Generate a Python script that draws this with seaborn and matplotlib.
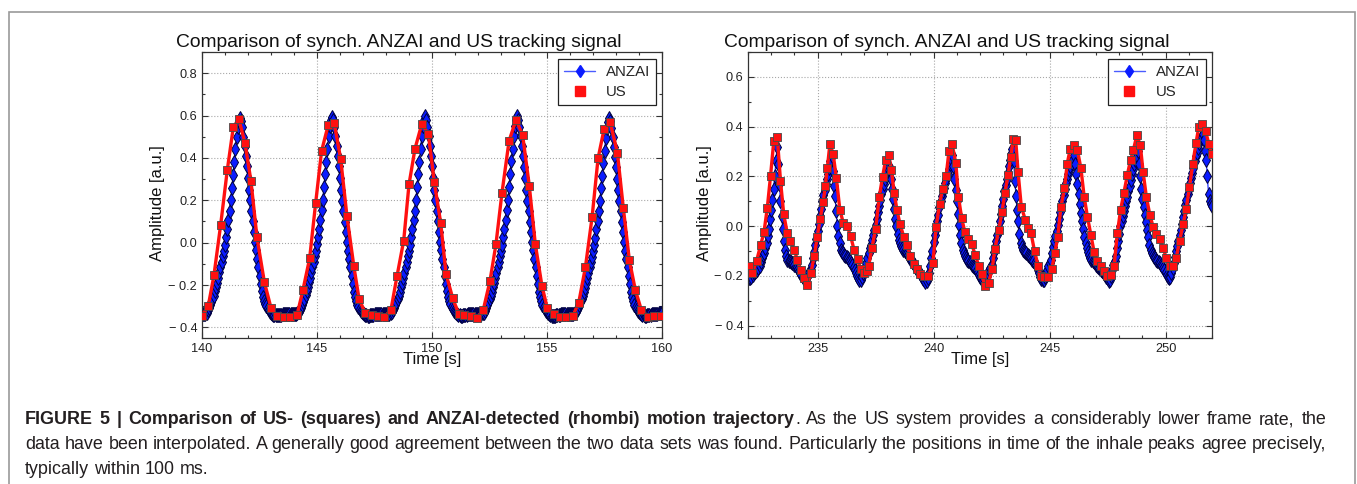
import matplotlib
matplotlib.use("Agg")
import matplotlib.pyplot as plt
from matplotlib.lines import Line2D
from matplotlib.patches import Rectangle
from matplotlib.ticker import MultipleLocator
import numpy as np
import seaborn as sns

# ---- data -------------------------------------------------------------
# ANZAI: one sample every 0.05 s, one row per second
anzai_step = 0.05
anzai_left_start = 140.0
anzai_left = [
    -0.335, -0.335, -0.335, -0.335, -0.33, -0.32, -0.31, -0.295, -0.28, -0.265, -0.25, -0.23, -0.21, -0.19, -0.165, -0.14, -0.115, -0.09, -0.065, -0.04,
    -0.01, 0.025, 0.065, 0.105, 0.15, 0.2, 0.26, 0.32, 0.38, 0.44, 0.5, 0.545, 0.575, 0.59, 0.575, 0.545, 0.5, 0.455, 0.41, 0.36,
    0.305, 0.25, 0.2, 0.15, 0.1, 0.05, 0.005, -0.035, -0.075, -0.115, -0.155, -0.195, -0.23, -0.255, -0.275, -0.29, -0.3, -0.31, -0.32, -0.325,
    -0.33, -0.335, -0.34, -0.34, -0.342, -0.342, -0.342, -0.34, -0.34, -0.34, -0.338, -0.338, -0.336, -0.335, -0.335, -0.335, -0.335, -0.335, -0.335, -0.335,
    -0.335, -0.335, -0.335, -0.333, -0.328, -0.318, -0.308, -0.294, -0.28, -0.265, -0.248, -0.23, -0.21, -0.188, -0.165, -0.14, -0.115, -0.09, -0.063, -0.037,
    -0.008, 0.027, 0.066, 0.107, 0.152, 0.203, 0.262, 0.323, 0.383, 0.443, 0.503, 0.55, 0.58, 0.595, 0.578, 0.547, 0.503, 0.457, 0.41, 0.36,
    0.303, 0.248, 0.198, 0.148, 0.098, 0.05, 0.005, -0.037, -0.077, -0.117, -0.157, -0.197, -0.232, -0.257, -0.277, -0.292, -0.303, -0.313, -0.322, -0.327,
    -0.333, -0.338, -0.342, -0.343, -0.344, -0.344, -0.343, -0.342, -0.341, -0.34, -0.339, -0.338, -0.337, -0.336, -0.335, -0.335, -0.335, -0.335, -0.335, -0.335,
    -0.335, -0.335, -0.335, -0.335, -0.334, -0.329, -0.32, -0.309, -0.295, -0.281, -0.266, -0.25, -0.231, -0.211, -0.19, -0.166, -0.141, -0.116, -0.09, -0.065,
    -0.04, -0.01, 0.025, 0.065, 0.106, 0.151, 0.202, 0.262, 0.322, 0.383, 0.443, 0.503, 0.55, 0.58, 0.597, 0.58, 0.548, 0.503, 0.457, 0.41,
    0.36, 0.305, 0.25, 0.2, 0.15, 0.1, 0.05, 0.005, -0.035, -0.075, -0.115, -0.155, -0.195, -0.23, -0.256, -0.276, -0.291, -0.302, -0.312, -0.321,
    -0.327, -0.332, -0.337, -0.341, -0.343, -0.344, -0.344, -0.343, -0.342, -0.341, -0.34, -0.339, -0.338, -0.337, -0.336, -0.335, -0.335, -0.335, -0.335, -0.335,
    -0.335, -0.335, -0.335, -0.335, -0.334, -0.33, -0.321, -0.31, -0.296, -0.281, -0.266, -0.25, -0.231, -0.211, -0.19, -0.166, -0.141, -0.115, -0.09, -0.064,
    -0.039, -0.009, 0.026, 0.066, 0.107, 0.152, 0.203, 0.263, 0.323, 0.384, 0.444, 0.504, 0.551, 0.581, 0.597, 0.581, 0.548, 0.503, 0.456, 0.41,
    0.359, 0.304, 0.249, 0.199, 0.149, 0.099, 0.049, 0.004, -0.036, -0.076, -0.116, -0.156, -0.196, -0.231, -0.257, -0.277, -0.292, -0.303, -0.313, -0.322,
    -0.328, -0.333, -0.338, -0.342, -0.344, -0.345, -0.345, -0.344, -0.343, -0.342, -0.341, -0.34, -0.339, -0.338, -0.337, -0.336, -0.335, -0.335, -0.335, -0.335,
    -0.335, -0.335, -0.335, -0.335, -0.333, -0.328, -0.32, -0.31, -0.296, -0.282, -0.267, -0.251, -0.232, -0.212, -0.191, -0.167, -0.142, -0.117, -0.091, -0.066,
    -0.041, -0.011, 0.024, 0.063, 0.103, 0.148, 0.198, 0.257, 0.316, 0.376, 0.435, 0.494, 0.54, 0.57, 0.587, 0.572, 0.541, 0.497, 0.452, 0.406,
    0.357, 0.302, 0.248, 0.198, 0.148, 0.098, 0.048, 0.003, -0.037, -0.077, -0.117, -0.157, -0.197, -0.232, -0.257, -0.277, -0.292, -0.303, -0.313, -0.322,
    -0.328, -0.333, -0.337, -0.341, -0.343, -0.344, -0.344, -0.343, -0.342, -0.341, -0.34, -0.339, -0.338, -0.337, -0.336, -0.335, -0.335, -0.334, -0.334, -0.333,
    -0.333,
]

anzai_right_start = 232.0
anzai_right = [
    -0.205, -0.21, -0.21, -0.205, -0.198, -0.19, -0.185, -0.18, -0.175, -0.17, -0.16, -0.145, -0.13, -0.118, -0.11, -0.09, -0.07, -0.04, -0.01, 0.03,
    0.065, 0.105, 0.15, 0.2, 0.26, 0.32, 0.25, 0.17, 0.1, 0.04, -0.01, -0.06, -0.095, -0.12, -0.135, -0.14, -0.142, -0.145, -0.148, -0.15,
    -0.155, -0.16, -0.165, -0.172, -0.18, -0.19, -0.198, -0.205, -0.212, -0.215, -0.212, -0.205, -0.195, -0.185, -0.175, -0.155, -0.13, -0.105, -0.075, -0.05,
    -0.02, 0.01, 0.04, 0.07, 0.1, 0.125, 0.145, 0.17, 0.19, 0.21, 0.235, 0.26, 0.28, 0.22, 0.16, 0.12, 0.06, 0.0, -0.04, -0.07,
    -0.095, -0.105, -0.11, -0.115, -0.12, -0.125, -0.13, -0.135, -0.14, -0.147, -0.155, -0.165, -0.178, -0.19, -0.2, -0.21, -0.217, -0.215, -0.205, -0.19,
    -0.178, -0.165, -0.15, -0.13, -0.11, -0.09, -0.075, -0.055, -0.035, -0.015, 0.005, 0.03, 0.055, 0.08, 0.105, 0.13, 0.15, 0.17, 0.19, 0.205,
    0.22, 0.235, 0.235, 0.19, 0.15, 0.11, 0.07, 0.03, 0.0, -0.03, -0.055, -0.07, -0.08, -0.09, -0.095, -0.1, -0.105, -0.11, -0.117, -0.125,
    -0.132, -0.14, -0.147, -0.153, -0.16, -0.168, -0.175, -0.183, -0.19, -0.197, -0.205, -0.212, -0.218, -0.223, -0.222, -0.21, -0.19, -0.161, -0.13, -0.1,
    -0.065, -0.035, -0.01, 0.02, 0.045, 0.075, 0.1, 0.12, 0.14, 0.155, 0.172, 0.19, 0.21, 0.23, 0.25, 0.27, 0.285, 0.24, 0.19, 0.145,
    0.1, 0.05, 0.005, -0.035, -0.07, -0.095, -0.11, -0.12, -0.128, -0.135, -0.14, -0.145, -0.15, -0.155, -0.16, -0.165, -0.17, -0.175, -0.185, -0.195,
    -0.203, -0.21, -0.215, -0.22, -0.22, -0.21, -0.2, -0.19, -0.178, -0.168, -0.155, -0.13, -0.105, -0.085, -0.06, -0.035, -0.01, 0.02, 0.05, 0.08,
    0.11, 0.14, 0.165, 0.19, 0.215, 0.24, 0.265, 0.29, 0.31, 0.26, 0.18, 0.12, 0.065, 0.02, -0.03, -0.068, -0.085, -0.095, -0.1, -0.105,
    -0.11, -0.115, -0.12, -0.125, -0.13, -0.135, -0.14, -0.147, -0.155, -0.165, -0.178, -0.19, -0.203, -0.212, -0.217, -0.215, -0.205, -0.19, -0.175, -0.16,
    -0.148, -0.135, -0.11, -0.085, -0.06, -0.04, -0.02, 0.005, 0.03, 0.055, 0.08, 0.1, 0.125, 0.15, 0.172, 0.19, 0.21, 0.225, 0.24, 0.255,
    0.27, 0.285, 0.25, 0.21, 0.17, 0.13, 0.09, 0.052, 0.02, -0.01, -0.045, -0.07, -0.09, -0.105, -0.118, -0.128, -0.135, -0.14, -0.145, -0.15,
    -0.155, -0.16, -0.165, -0.17, -0.175, -0.18, -0.185, -0.19, -0.197, -0.205, -0.213, -0.22, -0.218, -0.2, -0.175, -0.155, -0.14, -0.121, -0.09, -0.06,
    -0.03, 0.0, 0.02, 0.04, 0.06, 0.08, 0.1, 0.118, 0.14, 0.16, 0.185, 0.21, 0.23, 0.25, 0.265, 0.28, 0.3, 0.25, 0.2, 0.15,
    0.11, 0.075, 0.045, 0.015, -0.015, -0.045, -0.075, -0.095, -0.108, -0.118, -0.125, -0.13, -0.135, -0.14, -0.145, -0.15, -0.155, -0.16, -0.167, -0.175,
    -0.185, -0.195, -0.203, -0.208, -0.205, -0.19, -0.17, -0.15, -0.125, -0.1, -0.08, -0.06, -0.035, -0.015, 0.01, 0.035, 0.06, 0.085, 0.105, 0.13,
    0.15, 0.172, 0.195, 0.215, 0.235, 0.26, 0.28, 0.295, 0.315, 0.335, 0.35, 0.36, 0.37, 0.345, 0.3, 0.265, 0.2, 0.13, 0.1, 0.09,
    0.08,
]

# US (ultrasound) samples
us_left_t = [140.0, 140.27, 140.52, 140.81, 141.1, 141.36, 141.6, 141.87, 142.13, 142.39, 142.71, 143.0, 143.26, 143.55,
             143.84, 144.13, 144.39, 144.68, 144.94, 145.2, 145.49, 145.75, 146.03, 146.3, 146.6, 146.83, 147.09, 147.38,
             147.64, 147.93, 148.21, 148.48, 148.77, 149.0, 149.26, 149.55, 149.84, 150.1, 150.38, 150.61, 150.9, 151.16,
             151.4, 151.68, 151.97, 152.23, 152.52, 152.78, 153.04, 153.35, 153.65, 153.94, 154.23, 154.49, 154.78, 155.01,
             155.3, 155.57, 155.83, 156.12, 156.38, 156.67, 156.96, 157.22, 157.48, 157.74, 158.06, 158.32, 158.58, 158.84,
             159.1, 159.39, 159.65, 159.94]
us_left_y = [-0.345, -0.3, -0.154, 0.083, 0.343, 0.544, 0.585, 0.469, 0.29, 0.025, -0.185, -0.308, -0.346, -0.352,
             -0.352, -0.342, -0.223, -0.074, 0.186, 0.433, 0.556, 0.563, 0.395, 0.127, -0.11, -0.267, -0.33, -0.34,
             -0.345, -0.349, -0.32, -0.157, 0.01, 0.275, 0.443, 0.558, 0.515, 0.285, 0.092, -0.148, -0.262, -0.336,
             -0.342, -0.346, -0.354, -0.317, -0.181, -0.008, 0.233, 0.48, 0.579, 0.508, 0.269, -0.006, -0.204, -0.307,
             -0.336, -0.349, -0.349, -0.346, -0.283, -0.116, 0.12, 0.398, 0.535, 0.571, 0.425, 0.162, -0.082, -0.223,
             -0.317, -0.349, -0.346, -0.346]

us_right_t = [232.04, 232.19, 232.37, 232.55, 232.69, 232.83, 232.97, 233.11, 233.26, 233.4, 233.54, 233.69, 233.83,
              233.98, 234.13, 234.27, 234.41, 234.55, 234.71, 234.86, 234.98, 235.11, 235.24, 235.33, 235.42, 235.53,
              235.67, 235.81, 235.96, 236.11, 236.27, 236.42, 236.57, 236.72, 236.86, 237.0, 237.12, 237.2, 237.34,
              237.5, 237.66, 237.8, 237.93, 238.07, 238.18, 238.3, 238.42, 238.55, 238.71, 238.85, 239.0, 239.14,
              239.28, 239.43, 239.57, 239.77, 239.97, 240.11, 240.26, 240.39, 240.54, 240.66, 240.8, 240.96, 241.07,
              241.21, 241.35, 241.49, 241.64, 241.8, 241.95, 242.07, 242.22, 242.37, 242.52, 242.64, 242.81, 242.95,
              243.07, 243.21, 243.32, 243.44, 243.54, 243.64, 243.78, 243.95, 244.06, 244.2, 244.35, 244.51, 244.63,
              244.78, 244.95, 245.09, 245.23, 245.35, 245.49, 245.64, 245.76, 245.89, 246.05, 246.2, 246.35, 246.49,
              246.63, 246.78, 246.92, 247.06, 247.2, 247.35, 247.49, 247.63, 247.78, 247.92, 248.06, 248.2, 248.35,
              248.49, 248.61, 248.76, 248.91, 249.03, 249.17, 249.32, 249.46, 249.6, 249.75, 249.89, 250.03, 250.18,
              250.33, 250.46, 250.6, 250.76, 250.89, 251.03, 251.17, 251.31, 251.43, 251.58, 251.72, 251.86, 252.0]
us_right_y = [-0.16, -0.19, -0.14, -0.075, -0.024, 0.072, 0.2, 0.341, 0.36, 0.183, 0.048, -0.028, -0.06,
              -0.095, -0.135, -0.178, -0.21, -0.237, -0.188, -0.119, -0.045, 0.029, 0.096, 0.16, 0.234, 0.33,
              0.29, 0.192, 0.065, 0.012, 0.0, -0.039, -0.095, -0.132, -0.174, -0.19, -0.18, -0.161, -0.088,
              -0.012, 0.118, 0.198, 0.265, 0.287, 0.225, 0.134, 0.065, 0.009, -0.042, -0.075, -0.121, -0.154,
              -0.174, -0.192, -0.201, -0.201, -0.148, -0.002, 0.09, 0.15, 0.2, 0.3, 0.329, 0.252, 0.118,
              0.032, -0.025, -0.052, -0.071, -0.118, -0.16, -0.194, -0.241, -0.228, -0.174, -0.092, -0.015, 0.058,
              0.132, 0.205, 0.278, 0.35, 0.345, 0.218, 0.078, 0.025, -0.008, -0.028, -0.101, -0.161, -0.201,
              -0.204, -0.204, -0.174, -0.108, -0.042, 0.078, 0.152, 0.251, 0.311, 0.325, 0.305, 0.232, 0.118,
              0.038, -0.035, -0.105, -0.141, -0.161, -0.181, -0.201, -0.198, -0.161, -0.028, 0.065, 0.132, 0.205,
              0.267, 0.305, 0.365, 0.325, 0.218, 0.118, 0.045, -0.002, -0.031, -0.052, -0.088, -0.128, -0.161,
              -0.161, -0.128, -0.061, 0.009, 0.068, 0.158, 0.249, 0.334, 0.398, 0.411, 0.384, 0.331, 0.29]

left_xticks = [140, 145, 150, 155, 160]
right_xticks = [235, 240, 245, 250]
left_yticks = [-0.4, -0.2, 0.0, 0.2, 0.4, 0.6, 0.8]
left_ylabels = ["\u2212 0.4", "\u2212 0.2", "0.0", "0.2", "0.4", "0.6", "0.8"]
right_yticks = [-0.4, -0.2, 0.0, 0.2, 0.4, 0.6]
right_ylabels = ["\u2212 0.4", "\u2212 0.2", "0.0", "0.2", "0.4", "0.6"]

title = "Comparison of synch. ANZAI and US tracking signal"
caption_bold = "FIGURE 5 | Comparison of US- (squares) and ANZAI-detected (rhombi) motion trajectory"
caption_lines = [
    ". As the US system provides a considerably lower frame rate, the",
    "data have been interpolated. A generally good agreement between the two data sets was found. "
    "Particularly the positions in time of the inhale peaks agree precisely,",
    "typically within 100 ms.",
]

# ---- style -----------------------------------------------------------
sns.set_style("ticks")
plt.rcParams["font.family"] = ["Liberation Sans", "DejaVu Sans"]

W, H = 1357, 484
fig = plt.figure(figsize=(W / 100, H / 100), dpi=100)
fig.patch.set_facecolor("white")

BLUE = "#0b1cff"
NAVY = "#00003c"
RED = "#ff1010"


def px_axes(x0, y0, x1, y1):
    return fig.add_axes([x0 / W, 1 - y1 / H, (x1 - x0) / W, (y1 - y0) / H])


def draw_panel(ax, a_start, a_vals, us_t, us_y, xlim, ylim, xticks, yticks, ylabels, title_x, ylab_x):
    t = a_start + anzai_step * np.arange(len(a_vals))
    sns.lineplot(x=t, y=a_vals, ax=ax, color=BLUE, lw=0.8, marker="d", markersize=7.5,
                 markerfacecolor=BLUE, markeredgecolor=NAVY, markeredgewidth=0.7,
                 estimator=None, sort=False, zorder=2)
    sns.lineplot(x=us_t, y=us_y, ax=ax, color=RED, lw=2.4, estimator=None, sort=False, zorder=3)
    sns.scatterplot(x=us_t, y=us_y, ax=ax, marker="s", s=40, color=RED,
                    edgecolor="#4a4a4a", linewidth=0.6, zorder=4)

    ax.set_xlim(*xlim)
    ax.set_ylim(*ylim)
    ax.set_xticks(xticks)
    ax.set_yticks(yticks, ylabels)
    ax.xaxis.set_minor_locator(MultipleLocator(1))
    ax.yaxis.set_minor_locator(MultipleLocator(0.1))
    ax.tick_params(which="both", direction="in", top=True, right=True, colors="#333333",
                   labelcolor="#222222", labelsize=9.2, width=0.8)
    ax.tick_params(which="major", length=4, pad=3.5)
    ax.tick_params(which="minor", length=2)
    ax.grid(True, which="major", ls=":", lw=0.8, color="#a8a8a8")
    for s in ax.spines.values():
        s.set_color("#333333")
        s.set_linewidth(0.9)

    ax.set_xlabel("Time [s]", fontsize=12, color="#111111")
    ax.xaxis.set_label_coords(0.5, -0.05)
    ax.xaxis.label.set_va("top")
    ax.set_ylabel("Amplitude [a.u.]", fontsize=12, color="#111111")
    ax.yaxis.set_label_coords(ylab_x, 0.47)

    ax.text(title_x, 1.0 + 4.5 / 286, title, transform=ax.transAxes, ha="left", va="baseline",
            fontsize=13.9, color="#111111")

    handles = [
        Line2D([], [], color="#4a5cff", lw=1.0, marker="d", markersize=6.5,
               markerfacecolor=BLUE, markeredgecolor=BLUE),
        Line2D([], [], color="none", marker="s", markersize=7, markerfacecolor=RED,
               markeredgecolor=RED),
    ]
    leg = ax.legend(handles, ["ANZAI", "US"], loc="upper right",
                    bbox_to_anchor=(1 - 6 / 460, 1 - 7 / 286), borderaxespad=0,
                    fontsize=10.8, frameon=True, fancybox=False, framealpha=1,
                    edgecolor="#222222", handlelength=2.1, handletextpad=0.7,
                    borderpad=0.4, labelspacing=0.42)
    leg.get_frame().set_linewidth(0.9)


ax_l = px_axes(202, 52, 662, 338)
draw_panel(ax_l, anzai_left_start, anzai_left, us_left_t, us_left_y, (140, 160), (-0.45, 0.9),
           left_xticks, left_yticks, left_ylabels, (176 - 202) / 460, -(202 - 165) / 460)

ax_r = px_axes(748, 52, 1212, 338)
draw_panel(ax_r, anzai_right_start, anzai_right, us_right_t, us_right_y, (232, 252), (-0.45, 0.7),
           right_xticks, right_yticks, right_ylabels, (724 - 748) / 464, -(748 - 712) / 464)

# ---- caption: one text per word, placed where the full line would put it --
renderer = fig.canvas.get_renderer()
cap_color = "#231f20"
X_LEFT, X_RIGHT = 25, 1326


def text_width(s, size, weight="normal"):
    a = fig.text(0, 0, s, fontsize=size, fontweight=weight)
    w = a.get_window_extent(renderer).width
    a.remove()
    return w


cap_size = 10 * 1300 / text_width(caption_lines[1], 10)


def word_offsets(s, weight):
    # left offset of every word inside the laid-out string s
    out, pos = [], 0
    for w in s.split(" "):
        if w:
            end = text_width(s[:pos + len(w)], cap_size, weight)
            out.append((w, end - text_width(w, cap_size, weight)))
        pos += len(w) + 1
    return out


def place_line(pieces, y_px, justify=True):
    # pieces: list of (string, weight), laid out one after another;
    # a piece that does not start with a space is glued to the previous word
    items, x0 = [], 0.0
    for k, (s, wt) in enumerate(pieces):
        for j, (w, off) in enumerate(word_offsets(s, wt)):
            glued = k > 0 and j == 0 and not s.startswith(" ")
            items.append((w, wt, x0 + off, glued))
        x0 += text_width(s, cap_size, wt)
    n_gaps = sum(1 for it in items[1:] if not it[3])
    extra = (X_RIGHT - X_LEFT - x0) / n_gaps if justify else 0.0
    shift = 0.0
    for i, (w, wt, off, glued) in enumerate(items):
        if i > 0 and not glued:
            shift += extra
        fig.text((X_LEFT + off + shift) / W, 1 - y_px / H, w, fontsize=cap_size,
                 fontweight=wt, color=cap_color, va="baseline")


place_line([(caption_bold, "bold"), (caption_lines[0], "normal")], 424.5)
place_line([(caption_lines[1], "normal")], 449)
place_line([(caption_lines[2], "normal")], 473.5, justify=False)

# frame around the figure block
fig.add_artist(Rectangle((9 / W, -0.05), (1355 - 9) / W, 1.05 - 12 / H, transform=fig.transFigure,
                         fill=False, edgecolor="#9a9a9a", lw=1.2, clip_on=False))

fig.savefig("out.png", dpi=100, facecolor="white")
